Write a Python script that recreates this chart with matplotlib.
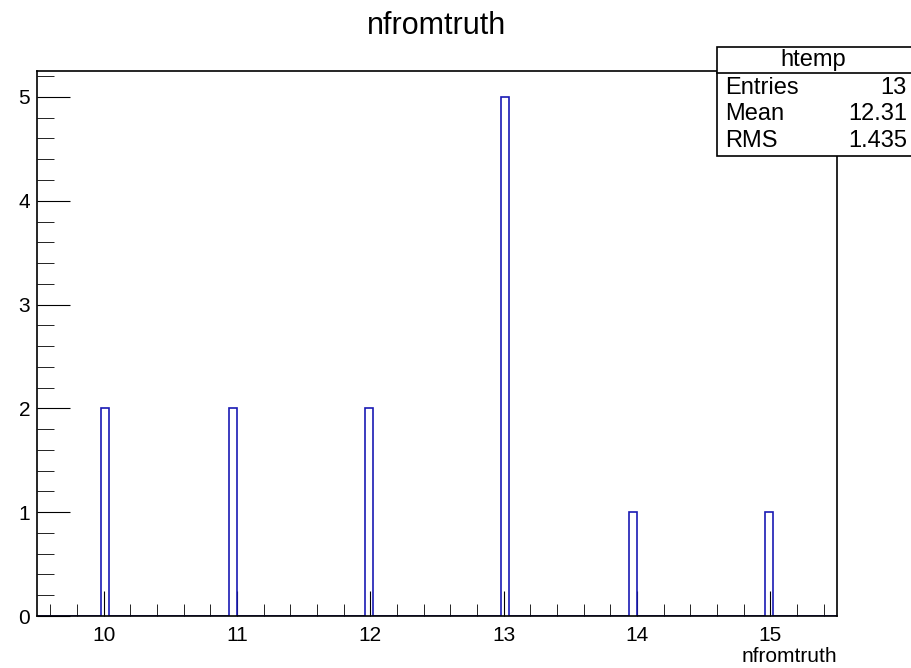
import matplotlib.pyplot as plt
import numpy as np
from matplotlib.patches import Rectangle
from matplotlib.ticker import MultipleLocator

plt.rcParams['font.family'] = ['Liberation Sans', 'DejaVu Sans']

# nfromtruth values and how many entries each has
values = [10, 11, 12, 13, 14, 15]
counts = [2, 2, 2, 5, 1, 1]
hist_name = "htemp"
var_name = "nfromtruth"

data = np.repeat(values, counts)
n_entries = len(data)
mean = data.mean()
rms = data.std()

fig = plt.figure(figsize=(9.12, 6.68), dpi=100)
ax = fig.add_axes([37 / 912, 1 - 616 / 668, 800 / 912, 545 / 668])

# 100 bins over [9.5, 15.5]; values on a bin edge land in the lower bin (as in the original)
bins = np.linspace(9.5, 15.5, 101) + 1e-9
ax.hist(data, bins=bins, histtype='step', color='#1a1ab4', linewidth=1.2)

ax.set_xlim(9.5, 15.5)
ax.set_ylim(0, 5.25)
ax.xaxis.set_major_locator(MultipleLocator(1))
ax.xaxis.set_minor_locator(MultipleLocator(0.2))
ax.yaxis.set_major_locator(MultipleLocator(1))
ax.yaxis.set_minor_locator(MultipleLocator(0.2))
ax.tick_params(which='both', direction='in', top=False, right=False, labelsize=15)
ax.tick_params(axis='x', which='major', length=18, pad=7)
ax.tick_params(axis='x', which='minor', length=9)
ax.tick_params(axis='y', which='major', length=24, pad=5)
ax.tick_params(axis='y', which='minor', length=12)
for s in ax.spines.values():
    s.set_linewidth(1.2)

fig.text(437 / 912, 1 - 26 / 668, var_name, ha='center', va='center', fontsize=22)
fig.text(837 / 912, 1 - 657 / 668, var_name, ha='right', va='center', fontsize=15)

# stats box
bx0, bx1, by0, by1 = 717 / 912, 930 / 912, 1 - 156 / 668, 1 - 47 / 668
fig.patches.append(Rectangle((bx0, by0), bx1 - bx0, by1 - by0, transform=fig.transFigure,
                             facecolor='white', edgecolor='black', linewidth=1.2))
fig.add_artist(plt.Line2D([bx0, bx1], [1 - 73 / 668] * 2, transform=fig.transFigure,
                          color='black', linewidth=1.2))
fig.text(813 / 912, 1 - 60 / 668, hist_name, ha='center', va='center', fontsize=17)
rows = [("Entries", f"{n_entries}"), ("Mean", f"{mean:.2f}"), ("RMS", f"{rms:.3f}")]
for i, (k, v) in enumerate(rows):
    y = 1 - (88 + 26.5 * i) / 668
    fig.text(725 / 912, y, k, ha='left', va='center', fontsize=17)
    fig.text(907 / 912, y, v, ha='right', va='center', fontsize=17)

fig.savefig("out.png", dpi=100, facecolor='white')
